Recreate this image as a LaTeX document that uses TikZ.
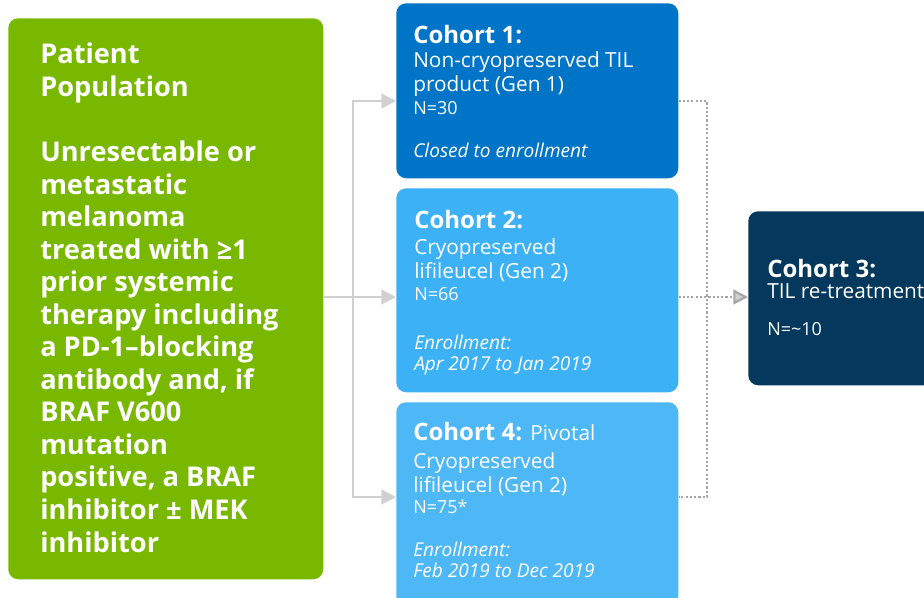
\documentclass[tikz,border=0pt]{standalone}
\usepackage{fontspec}
\setmainfont{Open Sans}
\usepackage{xcolor}
\usepackage{tikz}
\usetikzlibrary{arrows.meta}

\definecolor{popgreen}{RGB}{121,184,0}
\definecolor{cohortblue}{RGB}{0,116,198}
\definecolor{cohortsky}{RGB}{60,177,246}
\definecolor{cohortpale}{RGB}{78,184,247}
\definecolor{cohortnavy}{RGB}{4,56,92}
\definecolor{linegray}{RGB}{208,208,208}
\definecolor{dotgray}{RGB}{165,165,165}

\tikzset{
    box/.style={anchor=north west, rounded corners=7.5pt, inner sep=0pt, draw=none},
    txt/.style={anchor=base west, inner sep=0pt, align=left, text=white},
    poptxt/.style={txt, font=\fontsize{20.4}{24.4}\selectfont\bfseries},
    headtxt/.style={txt, font=\fontsize{18}{20}\selectfont\bfseries},
    bodytxt/.style={txt, font=\fontsize{15.6}{18}\selectfont},
    ntxt/.style={txt, font=\fontsize{13.5}{15}\selectfont},
    notetxt/.style={txt, font=\fontsize{14.3}{15.75}\selectfont\itshape},
    conn/.style={draw=linegray, line width=1.8pt},
    dots/.style={draw=dotgray, line width=1.6pt, dash pattern=on 1.6pt off 1.6pt},
    tip/.style={-{Triangle[length=11pt,width=11pt,fill=linegray]}}
}

\begin{document}
\begin{tikzpicture}[x=0.75pt,y=0.75pt,yscale=-1,xscale=1]
            \useasboundingbox (0,0) rectangle (924,597);
            %boxes
            \node[box, fill=popgreen, minimum width=236.25pt, minimum height=420.75pt] (pop) at (8,18) {};
            \node[box, fill=cohortblue, minimum width=211.5pt, minimum height=131.25pt] (c1) at (396,3) {};
            \node[box, fill=cohortsky, minimum width=211.5pt, minimum height=153pt] (c2) at (396,188) {};
            \node[box, fill=cohortpale, minimum width=211.5pt, minimum height=153pt] (c4) at (396,402) {};
            \node[box, fill=cohortnavy, minimum width=144pt, minimum height=130.5pt] (c3) at (748,211) {};
            %
            %patient population (base = last line)
            \node[poptxt] (poptitle) at (40,96) {Patient\\Population};
            \node[poptxt] (popdesc) at (40,552) {Unresectable or\\metastatic\\melanoma\\treated with ≥1\\prior systemic\\therapy including\\a PD-1–blocking\\antibody and, if\\BRAF V600\\mutation\\positive, a BRAF\\inhibitor ± MEK\\inhibitor};
            %
            %cohort 1
            \node[headtxt] (c1title) at (413,43) {Cohort 1:};
            \node[bodytxt] (c1body) at (413,91) {Non-cryopreserved TIL\\product (Gen 1)};
            \node[ntxt] (c1n) at (413,114) {N=30};
            \node[notetxt] (c1note) at (413,157) {Closed to enrollment};
            %cohort 2
            \node[headtxt] (c2title) at (414,228) {Cohort 2:};
            \node[bodytxt] (c2body) at (414,278) {Cryopreserved\\lifileucel (Gen 2)};
            \node[ntxt] (c2n) at (414,300) {N=66};
            \node[notetxt] (c2note) at (414,370) {Enrollment:\\Apr 2017 to Jan 2019};
            %cohort 4
            \node[headtxt] (c4title) at (413,440) {Cohort 4: {\fontsize{15.6}{18}\selectfont\mdseries Pivotal}};
            \node[bodytxt] (c4body) at (413,492) {Cryopreserved\\lifileucel (Gen 2)};
            \node[ntxt] (c4n) at (413,513) {N=75*};
            \node[notetxt] (c4note) at (413,577) {Enrollment:\\Feb 2019 to Dec 2019};
            %cohort 3
            \node[headtxt] (c3title) at (767,277) {Cohort 3:};
            \node[bodytxt] (c3body) at (767,298) {TIL re-treatment};
            \node[ntxt] (c3n) at (767,335) {N=\textasciitilde10};
            %
            %arrows
            \coordinate (fork) at (353,297);
            \coordinate (in1) at (396,101);
            \coordinate (in4) at (396,497);
            \draw[conn, tip] (pop.east |- fork) -- (fork -| c2.west);
            \draw[conn, tip] (fork) |- (in1);
            \draw[conn, tip] (fork) |- (in4);
            %dotted
            \coordinate (bend) at (707,297);
            \draw[dots] (c1.east |- in1) -| (bend) |- (c4.east |- in4);
            \draw[dots, tip] (c2.east |- fork) -- (fork -| c3.west);
            %
        \end{tikzpicture}
\end{document}
